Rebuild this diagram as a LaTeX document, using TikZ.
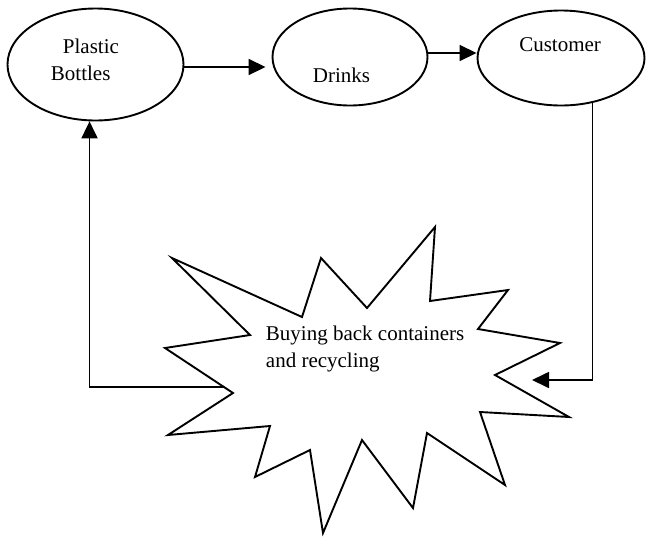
\documentclass[tikz,border=0pt]{standalone}
\usepackage{fontspec}
\setmainfont{Liberation Serif}
\usetikzlibrary{arrows.meta,shapes.geometric}
\begin{document}
\begin{tikzpicture}[x=1pt,y=-1pt,
  line width=1.9pt, line join=miter,
  oval/.style={draw, ellipse, inner sep=0pt},
  lbl/.style={anchor=base west, inner sep=0pt, font=\fontsize{21}{28}\selectfont},
  flow/.style={-{Triangle[length=17pt,width=16pt]}, line width=1.7pt}]
\useasboundingbox (0,0) rectangle (647,536);

% process stages
\node[oval, minimum width=176pt, minimum height=112pt] (pb) at (95.5,64.5) {};
\node[oval, minimum width=155pt, minimum height=97pt] (dr) at (350,57) {};
\node[oval, minimum width=167pt, minimum height=95pt] (cu) at (561,58) {};

\node[lbl] (tpb1) at (62,53) {Plastic};
\node[lbl] (tpb2) at (50,80.7) {Bottles};
\node[lbl] (tdr) at (312,82.3) {Drinks};
\node[lbl] (tcu) at (518.3,51.7) {Customer};

% burst outline
\draw (172,258) -- (302,317) -- (321,258) -- (367,308) -- (435,227)
  -- (430,301) -- (508,290) -- (478,329) -- (560,343) -- (495,375)
  -- (569,417) -- (480,412) -- (505,485) -- (427,433) -- (413,508)
  -- (362,440) -- (323,533) -- (310,450) -- (255,477) -- (270,426)
  -- (168,435) -- (233,393) -- (165,348) -- (250,335) -- cycle;
\node[lbl] (tb1) at (265,340.5) {Buying back containers};
\node[lbl] (tb2) at (265,367.5) {and recycling};

\coordinate (bout) at (224,387);
\coordinate (bin) at (532,380);

% connectors
\draw[flow] ([yshift=-2.5pt]pb.east) -- ([xshift=-6pt,yshift=-2.5pt]pb.east -| dr.west);
\draw[flow] ([yshift=4pt]dr.east) -- ([yshift=4pt]dr.east -| cu.west);
\draw[flow] (cu.-55) |- (bin);
\draw[flow] (bout) -| (pb.-96);
\end{tikzpicture}
\end{document}
